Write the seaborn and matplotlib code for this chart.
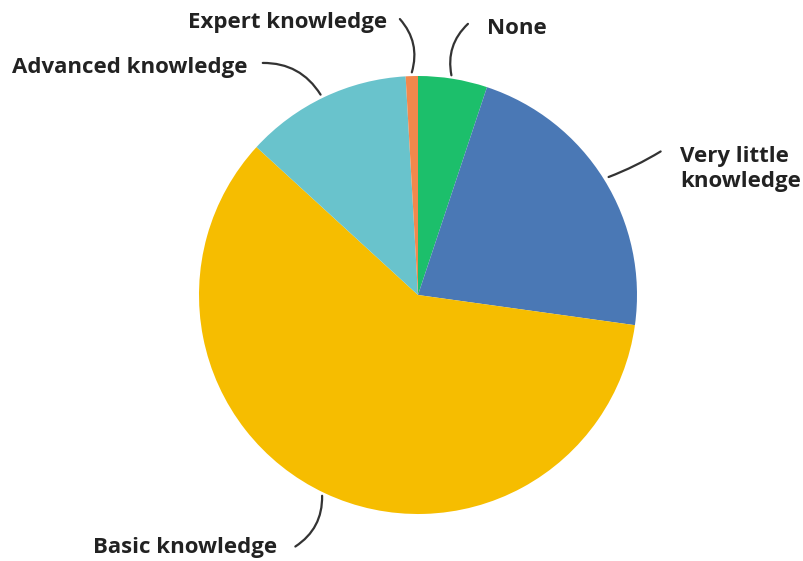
import matplotlib
matplotlib.use("Agg")
import matplotlib.pyplot as plt
import seaborn as sns

# Survey responses: self-rated knowledge level (share of respondents, %)
categories = ["None", "Very little\nknowledge", "Basic knowledge",
              "Advanced knowledge", "Expert knowledge"]
shares = [5.1, 22.1, 59.6, 12.3, 0.9]
colors = ["#1cbf6b", "#4a78b5", "#f6bd00", "#69c3cc", "#f2884c"]

sns.set_theme(style="white")
plt.rcParams["font.family"] = ["Open Sans", "DejaVu Sans"]

W, H = 804, 561
fig = plt.figure(figsize=(W / 100, H / 100), dpi=100)
ax = fig.add_axes([0, 0, 1, 1])

cx, cy, r = 418, H - 295, 219
ax.pie(shares, colors=colors, startangle=90, counterclock=False,
       center=(cx, cy), radius=r, frame=True,
       wedgeprops=dict(linewidth=0))
ax.set_xlim(0, W)
ax.set_ylim(0, H)
ax.set_aspect("equal")
ax.axis("off")

# label placement: (text xy, anchor, line start on the rim, line end, curvature)
label_layout = [
    ((487, 28), "left", (452, 78), (470, 22), -0.3),
    ((680, 169), "left", (606, 178), (663, 150), 0.05),
    ((277, 547), "right", (322, 493), (293, 548), -0.3),
    ((248, 67), "right", (322, 97), (260, 63), 0.3),
    ((387, 22), "right", (411, 75), (398, 17), 0.3),
]

for name, (txy, ha, p0, p1, rad) in zip(categories, label_layout):
    ax.text(txy[0], H - txy[1], name, ha=ha, va="center", fontsize=16,
            fontweight="bold", color="#222222", linespacing=1.25)
    ax.annotate("", xy=(p1[0], H - p1[1]), xytext=(p0[0], H - p0[1]),
                arrowprops=dict(arrowstyle="-", color="#333333", lw=1.6,
                                connectionstyle=f"arc3,rad={rad}"),
                annotation_clip=False)

fig.savefig("out.png", dpi=100, facecolor="white")
